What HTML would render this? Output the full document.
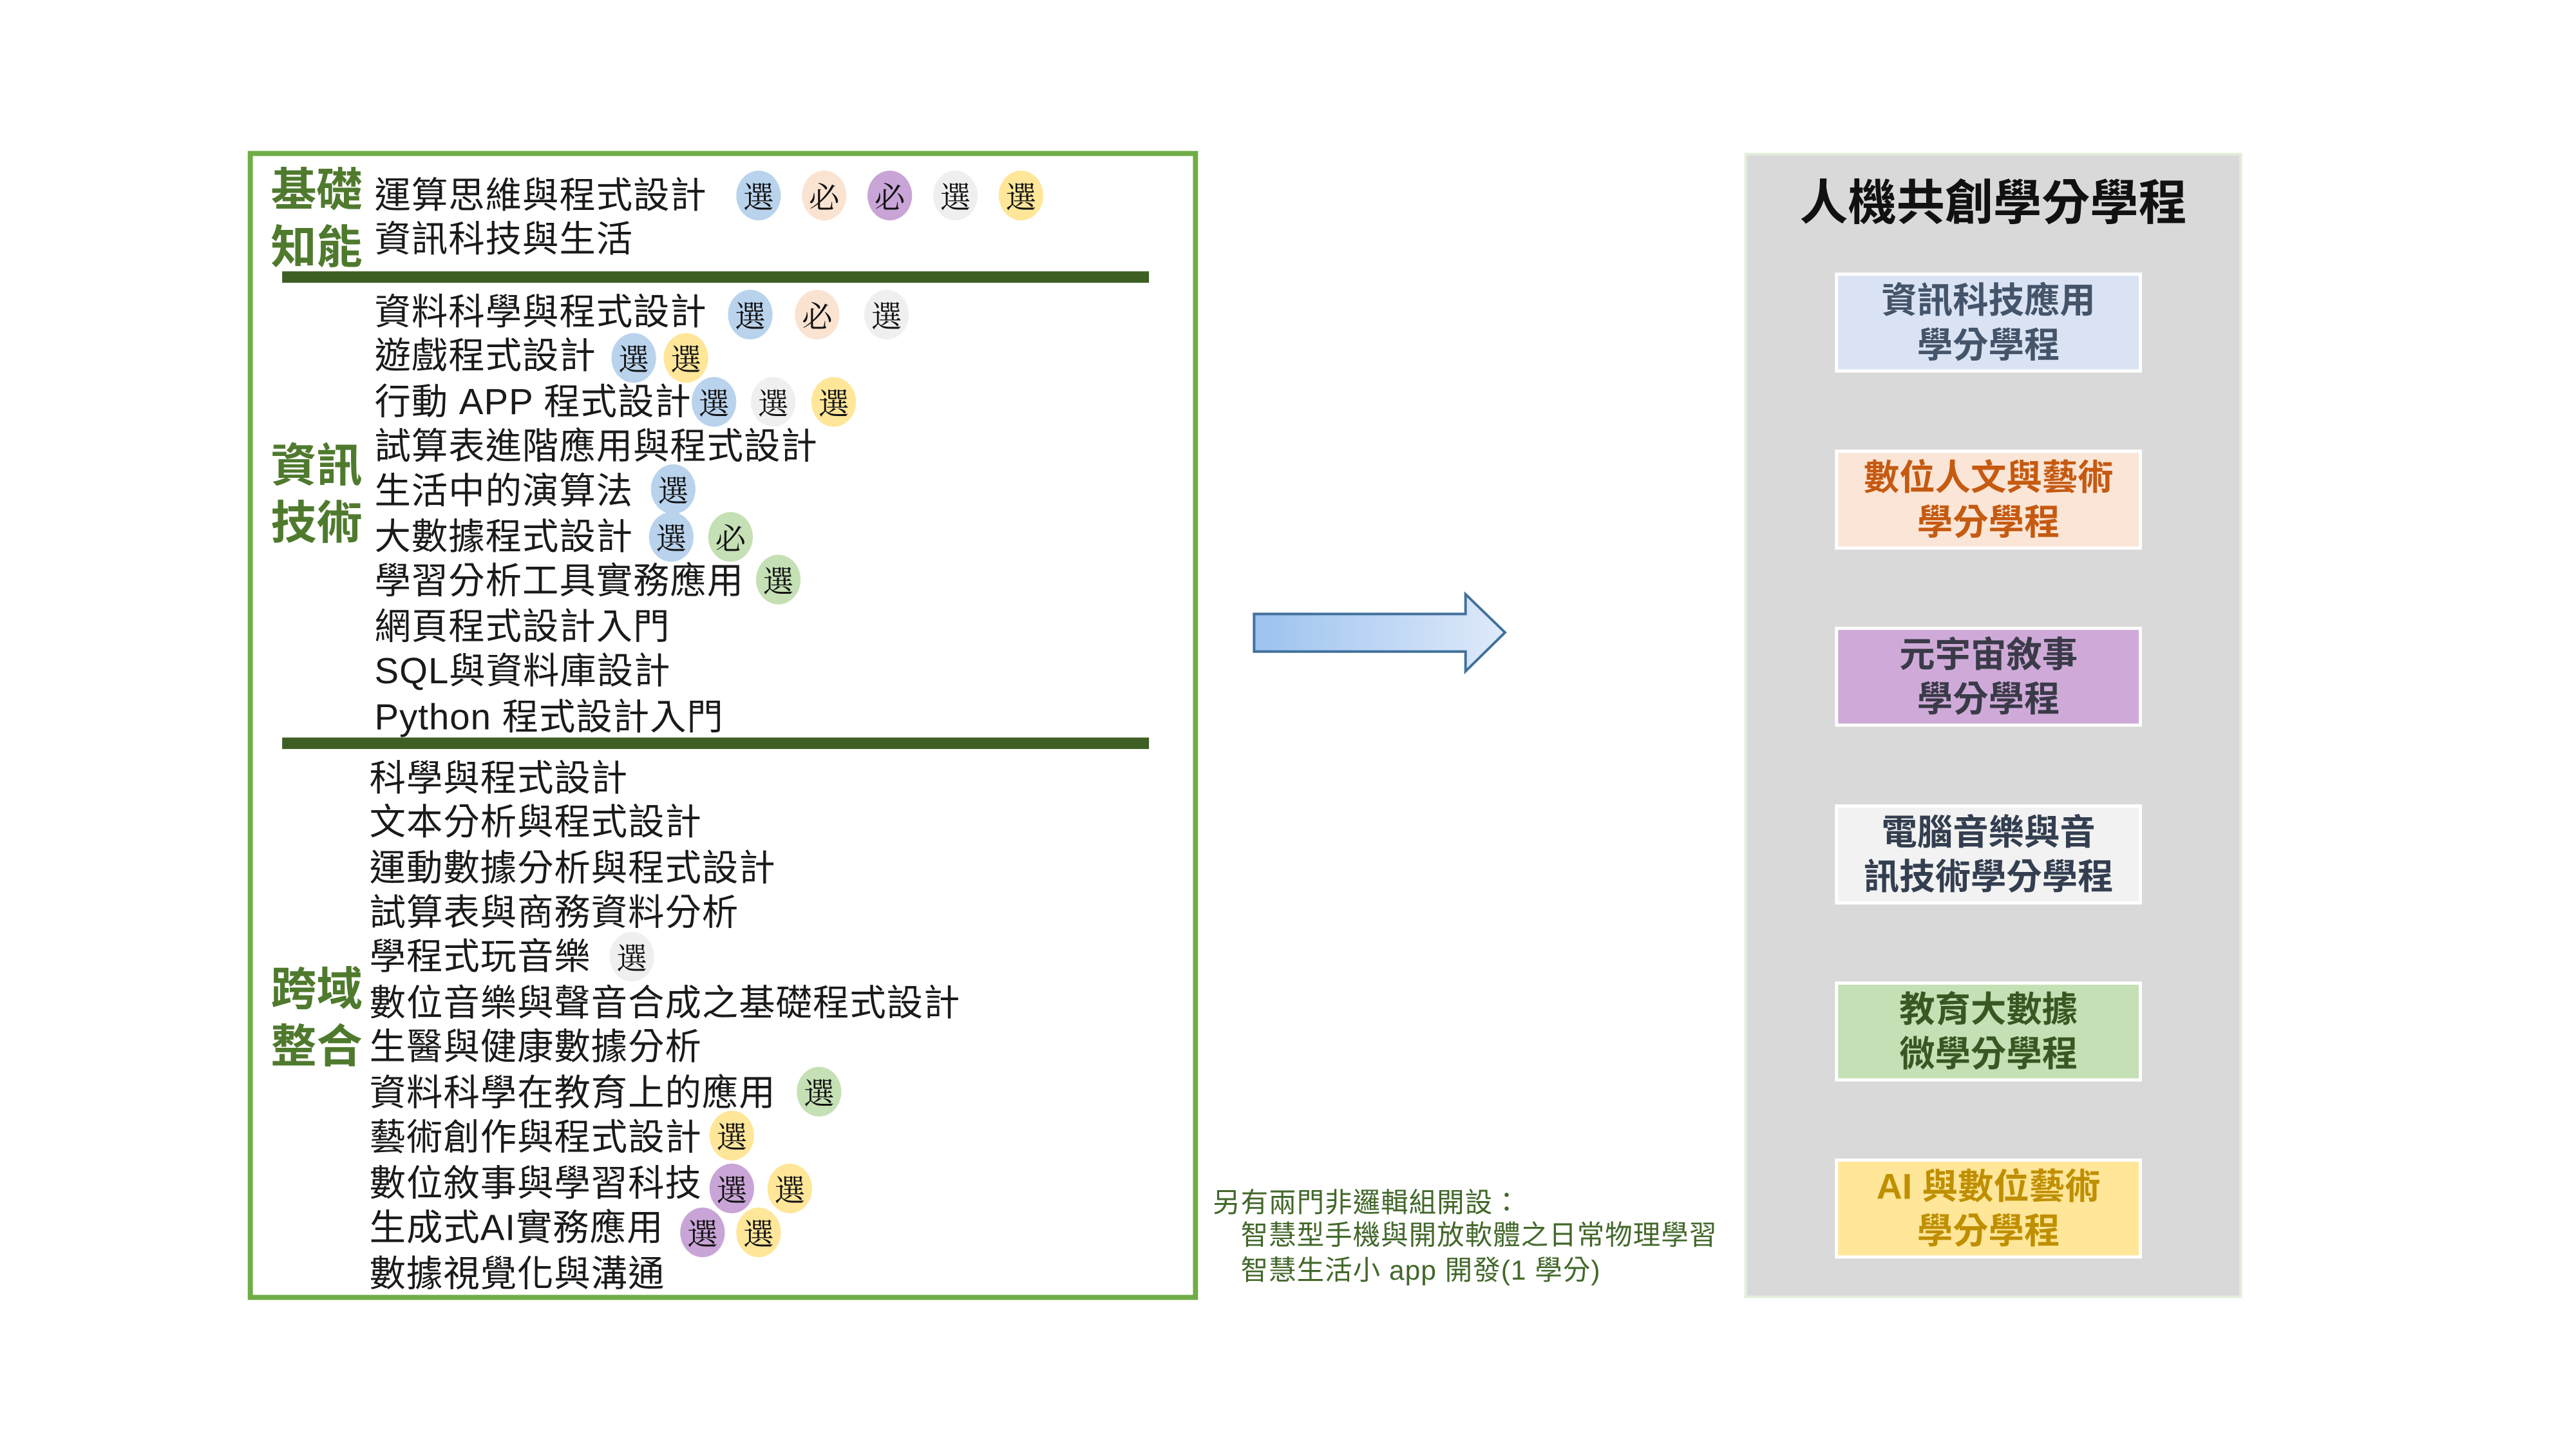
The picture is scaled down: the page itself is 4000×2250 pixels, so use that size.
<!DOCTYPE html>
<html><head><meta charset="utf-8"><style>
*{margin:0;padding:0;box-sizing:border-box}
body{width:4000px;height:2250px;background:#fff;position:relative;overflow:hidden;font-family:"Liberation Sans","Noto Sans CJK TC",sans-serif}
#w{position:absolute;left:0;top:0;width:4000px;height:2250px;transform:scale(0.989);transform-origin:0 0}
.t{position:absolute;font-size:57px;line-height:56px;height:56px;color:#1a1a1a;white-space:nowrap;letter-spacing:1px}
.l{position:absolute;font-size:72px;line-height:72px;font-weight:bold;color:#4f7a2e;white-space:nowrap;left:425px}
.b{position:absolute;width:70px;height:78px;border-radius:50%;font-family:"Noto Serif CJK SC",serif;font-size:48px;line-height:78px;text-align:center;color:#111}
.bl{background:#b9d3ed}.pe{background:#fbe3d2}.pu{background:#c9a4d6}.gr{background:#efefef}.ye{background:#ffe699}.gn{background:#c5e0b4}
.bar{position:absolute;left:443px;width:1361px;height:18px;background:#3e5f24}
.rb{position:absolute;left:2881px;width:482px;height:157px;border:5px solid #fff;text-align:center;font-size:56px;line-height:70px;font-weight:bold;padding-top:4px}
.n{position:absolute;font-size:43px;line-height:42px;color:#43682b;white-space:nowrap;letter-spacing:1px}
</style></head><body><div id="w">
<div style="position:absolute;left:389px;top:237px;width:1492px;height:1804px;border:8px solid #70ad47"></div>
<div class="bar" style="top:426px"></div>
<div class="bar" style="top:1158px"></div>

<div class="l" style="top:263px">基礎</div>
<div class="l" style="top:353px">知能</div>
<div class="l" style="top:696px">資訊</div>
<div class="l" style="top:786px">技術</div>
<div class="l" style="top:1518px">跨域</div>
<div class="l" style="top:1608px">整合</div>

<div class="t" style="left:588px;top:279px">運算思維與程式設計</div>
<div class="t" style="left:588px;top:348px">資訊科技與生活</div>
<div class="t" style="left:588px;top:462px">資料科學與程式設計</div>
<div class="t" style="left:588px;top:531px">遊戲程式設計</div>
<div class="t" style="left:588px;top:603px">行動 APP 程式設計</div>
<div class="t" style="left:588px;top:673px">試算表進階應用與程式設計</div>
<div class="t" style="left:588px;top:743px">生活中的演算法</div>
<div class="t" style="left:588px;top:815px">大數據程式設計</div>
<div class="t" style="left:588px;top:884px">學習分析工具實務應用</div>
<div class="t" style="left:588px;top:956px">網頁程式設計入門</div>
<div class="t" style="left:588px;top:1026px">SQL與資料庫設計</div>
<div class="t" style="left:588px;top:1098px">Python 程式設計入門</div>
<div class="t" style="left:580px;top:1194px">科學與程式設計</div>
<div class="t" style="left:580px;top:1263px">文本分析與程式設計</div>
<div class="t" style="left:580px;top:1335px">運動數據分析與程式設計</div>
<div class="t" style="left:580px;top:1405px">試算表與商務資料分析</div>
<div class="t" style="left:580px;top:1474px">學程式玩音樂</div>
<div class="t" style="left:580px;top:1547px">數位音樂與聲音合成之基礎程式設計</div>
<div class="t" style="left:580px;top:1616px">生醫與健康數據分析</div>
<div class="t" style="left:580px;top:1688px">資料科學在教育上的應用</div>
<div class="t" style="left:580px;top:1758px">藝術創作與程式設計</div>
<div class="t" style="left:580px;top:1830px">數位敘事與學習科技</div>
<div class="t" style="left:580px;top:1900px">生成式AI實務應用</div>
<div class="t" style="left:580px;top:1972px">數據視覺化與溝通</div>

<div class="b bl" style="left:1156px;top:268px">選</div>
<div class="b pe" style="left:1259px;top:268px">必</div>
<div class="b pu" style="left:1362px;top:268px">必</div>
<div class="b gr" style="left:1465px;top:268px">選</div>
<div class="b ye" style="left:1568px;top:268px">選</div>
<div class="b bl" style="left:1143px;top:455px">選</div>
<div class="b pe" style="left:1248px;top:455px">必</div>
<div class="b gr" style="left:1357px;top:455px">選</div>
<div class="b bl" style="left:960px;top:523px">選</div>
<div class="b ye" style="left:1042px;top:523px">選</div>
<div class="b bl" style="left:1086px;top:592px">選</div>
<div class="b gr" style="left:1179px;top:592px">選</div>
<div class="b ye" style="left:1274px;top:592px">選</div>
<div class="b bl" style="left:1022px;top:729px">選</div>
<div class="b bl" style="left:1019px;top:804px">選</div>
<div class="b gn" style="left:1112px;top:804px">必</div>
<div class="b gn" style="left:1187px;top:871px">選</div>
<div class="b gr" style="left:957px;top:1463px">選</div>
<div class="b gn" style="left:1251px;top:1675px">選</div>
<div class="b ye" style="left:1114px;top:1744px">選</div>
<div class="b pu" style="left:1114px;top:1827px">選</div>
<div class="b ye" style="left:1205px;top:1827px">選</div>
<div class="b pu" style="left:1068px;top:1896px">選</div>
<div class="b ye" style="left:1156px;top:1896px">選</div>

<svg style="position:absolute;left:0;top:0" width="4000" height="2250">
<defs><linearGradient id="g" x1="0" y1="0" x2="1" y2="0"><stop offset="0" stop-color="#9cc2ef"/><stop offset="1" stop-color="#dfeafa"/></linearGradient></defs>
<polygon points="1969,964 2301,964 2301,933 2363,993 2301,1054 2301,1023 1969,1023" fill="url(#g)" stroke="#41719c" stroke-width="4"/>
</svg>

<div class="n" style="left:1904px;top:1868px">另有兩門非邏輯組開設：</div>
<div class="n" style="left:1948px;top:1919px">智慧型手機與開放軟體之日常物理學習</div>
<div class="n" style="left:1948px;top:1974px">智慧生活小 app 開發(1 學分)</div>

<div style="position:absolute;left:2739px;top:240px;width:781px;height:1798px;background:#d9d9d9;border:4px solid #e3eedb"></div>
<div style="position:absolute;left:2739px;width:781px;top:280px;text-align:center;font-size:76px;line-height:80px;font-weight:bold;color:#111">人機共創學分學程</div>
<div class="rb" style="top:428px;background:#dae3f3;color:#44546a">資訊科技應用<br>學分學程</div>
<div class="rb" style="top:706px;background:#fbe5d6;color:#c55a11">數位人文與藝術<br>學分學程</div>
<div class="rb" style="top:984px;background:#cfaad8;color:#3a3a48">元宇宙敘事<br>學分學程</div>
<div class="rb" style="top:1263px;background:#f2f2f2;color:#333f50">電腦音樂與音<br>訊技術學分學程</div>
<div class="rb" style="top:1541px;background:#c5e0b4;color:#385723">教育大數據<br>微學分學程</div>
<div class="rb" style="top:1819px;background:#ffe699;color:#bf8f00">AI 與數位藝術<br>學分學程</div>
</div></body></html>
